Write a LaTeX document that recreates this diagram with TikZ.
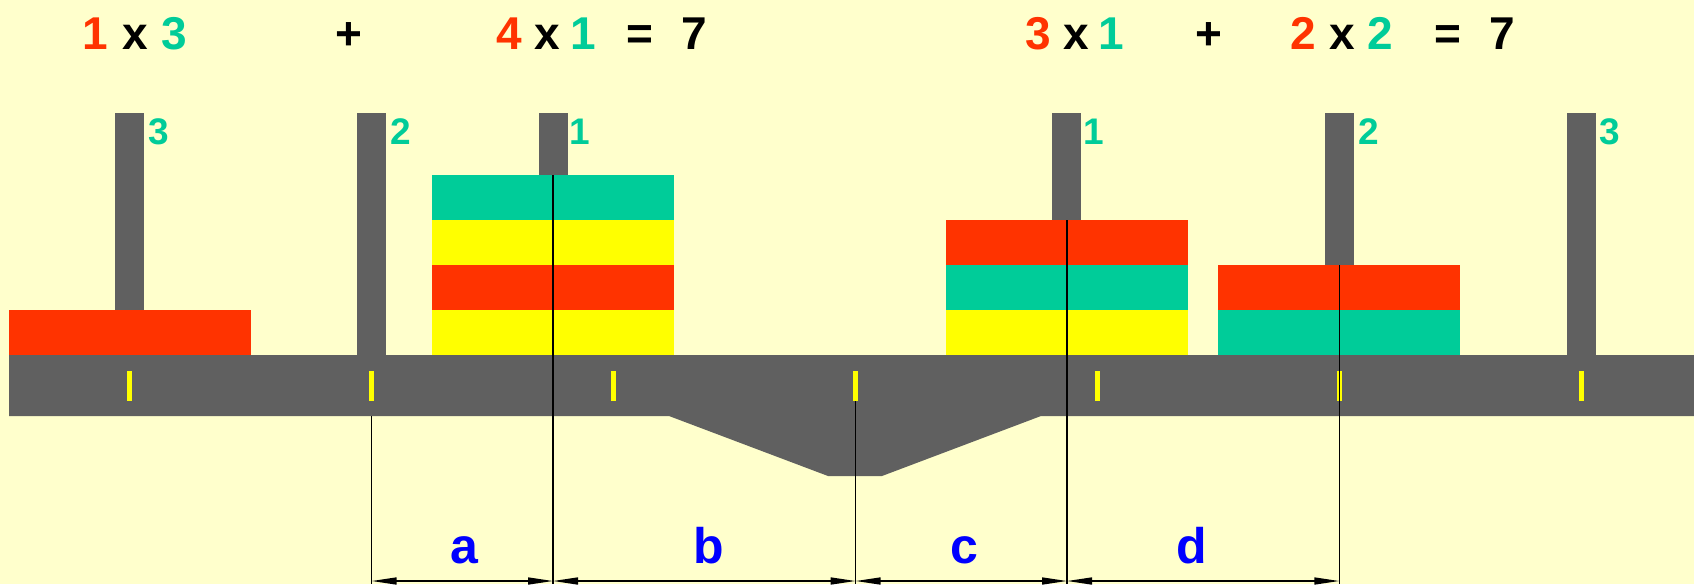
\documentclass[tikz,border=0pt]{standalone}
\usepackage{fontspec}
\setmainfont{Liberation Sans}
\usetikzlibrary{arrows.meta}
\definecolor{bg}{HTML}{FFFFCC}
\definecolor{beamgray}{HTML}{606060}
\definecolor{dred}{HTML}{FF3300}
\definecolor{dteal}{HTML}{00CC99}
\definecolor{dyel}{HTML}{FFFF00}
\definecolor{lblue}{HTML}{0000FF}
\newcommand\mypeg[2]{\fill[beamgray] ({#1-14.5},113) rectangle ({#1+14.5},#2);}
\newcommand\mydisk[3]{\fill[#3] ({#1-121},#2) rectangle ({#1+121},{#2+45});}
\newcommand\mytick[1]{\fill[dyel] ({#1-2.5},371) rectangle ({#1+2.5},401);}
\begin{document}
\begin{tikzpicture}[x=1pt,y=-1pt,
  eq/.style={font=\fontsize{46}{50}\selectfont\bfseries, anchor=base, inner sep=0pt},
  peglbl/.style={font=\fontsize{37}{40}\selectfont\bfseries, text=dteal, anchor=base, inner sep=0pt},
  dimlbl/.style={font=\fontsize{50}{54}\selectfont\bfseries, text=lblue, anchor=base, inner sep=0pt},
  refline/.style={draw=black, line width=1.5pt},
  dimarrow/.style={draw=black, line width=1.5pt, {Triangle[length=25pt,width=7pt]}-{Triangle[length=25pt,width=7pt]}}
]
\useasboundingbox (0,0) rectangle (1694,584);
\fill[bg] (0,0) rectangle (1694,584);
% beam and fulcrum
\fill[beamgray] (9,355) -- (1694,355) -- (1694,416) -- (1041,416) -- (882,476) -- (828,476) -- (669,416) -- (9,416) -- cycle;
% pegs
\mypeg{129}{310}
\mypeg{371.5}{355}
\mypeg{553}{175}
\mypeg{1066.5}{220}
\mypeg{1339}{265}
\mypeg{1581}{355}
% disks
\mydisk{130}{310}{dred}
\mydisk{553}{175}{dteal}
\mydisk{553}{220}{dyel}
\mydisk{553}{265}{dred}
\mydisk{553}{310}{dyel}
\mydisk{1067}{220}{dred}
\mydisk{1067}{265}{dteal}
\mydisk{1067}{310}{dyel}
\mydisk{1339}{265}{dred}
\mydisk{1339}{310}{dteal}
% ticks
\mytick{129.6}
\mytick{371.6}
\mytick{613.6}
\mytick{855.6}
\mytick{1097.6}
\mytick{1339.6}
\mytick{1581.6}
% reference lines
\coordinate (t1) at (371.6,416);
\coordinate (t2) at (553,175);
\coordinate (t3) at (855.6,401);
\coordinate (t4) at (1067,220);
\coordinate (t5) at (1339.3,265);
\coordinate (b1) at (371.6,584);
\coordinate (b2) at (553,584);
\coordinate (b3) at (855.6,584);
\coordinate (b4) at (1067,584);
\coordinate (b5) at (1339.3,584);
\path[refline] (t1) -- (b1);
\path[refline] (t2) -- (b2);
\path[refline] (t3) -- (b3);
\path[refline] (t4) -- (b4);
\path[refline] (t5) -- (b5);
\coordinate (d1) at (371.6,581);
\coordinate (d2) at (553,581);
\coordinate (d3) at (855.6,581);
\coordinate (d4) at (1067,581);
\coordinate (d5) at (1339.3,581);
\path[dimarrow] (d1) -- (d2);
\path[dimarrow] (d2) -- (d3);
\path[dimarrow] (d3) -- (d4);
\path[dimarrow] (d4) -- (d5);
% dimension labels
\node[dimlbl] (la) at (464,563) {a};
\node[dimlbl] (lb) at (709,563) {b};
\node[dimlbl] (lc) at (964,563) {c};
\node[dimlbl] (ld) at (1191.7,563) {d};
% peg labels
\node[peglbl] (p1) at (159,144) {3};
\node[peglbl] (p2) at (401,144) {2};
\node[peglbl] (p3) at (580,144) {1};
\node[peglbl] (p4) at (1094,144) {1};
\node[peglbl] (p5) at (1369,144) {2};
\node[peglbl] (p6) at (1610,144) {3};
% equations
\node[eq, text=dred] (e1) at (95,49) {1};
\node[eq] (e2) at (135.5,49) {x};
\node[eq, text=dteal] (e3) at (174,49) {3};
\node[eq] (e4) at (348.7,49) {+};
\node[eq, text=dred] (e5) at (509,49) {4};
\node[eq] (e6) at (547.3,49) {x};
\node[eq, text=dteal] (e7) at (583.2,49) {1};
\node[eq] (e8) at (640,49) {=};
\node[eq] (e9) at (694,49) {7};
\node[eq, text=dred] (f1) at (1038.6,49) {3};
\node[eq] (f2) at (1076.5,49) {x};
\node[eq, text=dteal] (f3) at (1110.8,49) {1};
\node[eq] (f4) at (1209,49) {+};
\node[eq, text=dred] (f5) at (1303.5,49) {2};
\node[eq] (f6) at (1341.8,49) {x};
\node[eq, text=dteal] (f7) at (1380,49) {2};
\node[eq] (f8) at (1448.3,49) {=};
\node[eq] (f9) at (1502,49) {7};
\end{tikzpicture}
\end{document}
